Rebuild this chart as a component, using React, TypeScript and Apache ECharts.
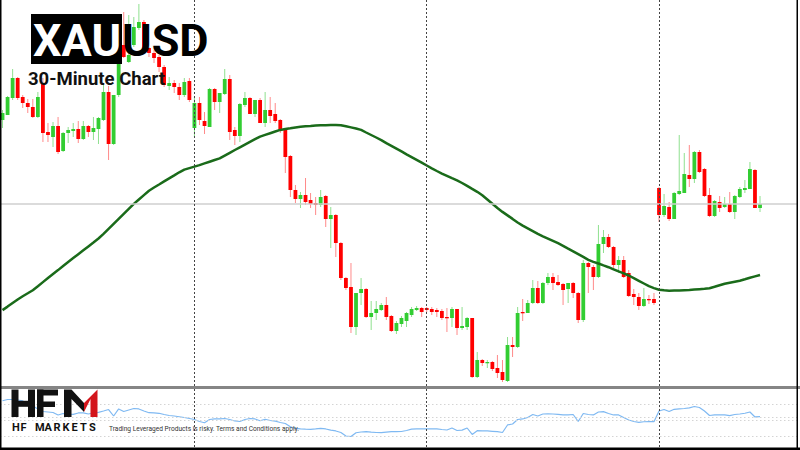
import React, { useEffect, useRef } from "react";
import * as echarts from "echarts";

// Candles as [open, close, low, high], one array per trading session
const session1: number[][] = [
  [280, 287, 272, 290], [285, 303, 285, 304], [302, 322, 300, 331], [322, 302, 300, 323],
  [303, 297, 292, 305], [297, 293, 287, 301], [293, 283, 282, 301], [283, 303, 282, 308],
  [316, 267, 258, 322], [268, 265, 258, 277], [263, 274, 253, 278], [274, 248, 246, 283],
  [249, 267, 248, 268], [267, 270, 257, 273], [269, 271, 263, 277], [271, 261, 257, 279],
  [261, 274, 260, 279], [274, 268, 263, 275], [268, 272, 260, 283], [271, 282, 256, 283],
  [280, 308, 279, 316], [308, 256, 240, 314], [256, 305, 255, 305], [305, 338, 303, 343],
  [355, 343, 342, 388], [338, 345, 337, 385], [355, 373, 353, 383], [372, 378, 370, 396],
  [378, 352, 350, 380], [352, 347, 343, 353], [347, 342, 337, 350], [343, 333, 328, 345],
  [333, 315, 313, 335], [314, 317, 310, 323], [317, 313, 307, 320], [313, 305, 300, 317],
  [305, 318, 303, 322], [319, 300, 298, 322],
];
const session2: number[][] = [
  [272, 297, 263, 303], [297, 280, 275, 303], [279, 274, 266, 288], [273, 311, 273, 312],
  [311, 298, 290, 312], [298, 307, 287, 307], [306, 321, 305, 331], [321, 268, 260, 325],
  [270, 264, 255, 273], [264, 296, 258, 297], [295, 302, 293, 308], [302, 286, 286, 303],
  [286, 300, 283, 300], [300, 277, 277, 302], [277, 290, 273, 308], [290, 284, 277, 303],
  [286, 279, 277, 297], [280, 269, 267, 281], [270, 243, 227, 272], [244, 210, 203, 245],
  [210, 201, 197, 215], [201, 205, 192, 208], [205, 198, 195, 222], [200, 196, 192, 207],
  [197, 195, 185, 203], [195, 203, 193, 210], [204, 181, 173, 205], [181, 185, 152, 193],
  [185, 157, 143, 186], [157, 122, 120, 158], [122, 112, 110, 123], [113, 73, 67, 137],
  [73, 107, 65, 107], [107, 111, 95, 122], [111, 83, 82, 112], [83, 87, 70, 99],
  [87, 91, 80, 99], [90, 95, 89, 97], [95, 83, 80, 103], [84, 69, 68, 85],
  [69, 77, 66, 79], [76, 82, 73, 84], [79, 87, 73, 88], [85, 91, 83, 93],
  [90, 92, 89, 94], [92, 88, 83, 93],
];
const session3: number[][] = [
  [92, 90, 88, 93], [91, 88, 85, 93], [90, 88, 83, 92], [89, 82, 80, 91],
  [83, 82, 68, 92], [82, 91, 73, 93], [91, 72, 65, 91], [72, 74, 70, 93],
  [73, 82, 70, 83], [82, 23, 22, 82], [23, 40, 22, 48], [40, 37, 34, 41],
  [37, 38, 32, 40], [38, 31, 29, 39], [32, 27, 22, 45], [28, 20, 18, 40],
  [19, 55, 18, 63], [55, 53, 43, 63], [53, 87, 52, 93], [88, 87, 79, 101],
  [87, 97, 87, 100], [97, 112, 96, 120], [112, 97, 96, 119], [97, 117, 96, 118],
  [117, 123, 115, 127], [123, 117, 110, 127], [118, 115, 114, 125], [116, 110, 95, 117],
  [111, 117, 97, 117], [117, 107, 102, 118], [107, 80, 77, 108], [80, 137, 78, 140],
  [137, 133, 107, 138], [133, 123, 110, 135], [123, 156, 122, 175], [156, 163, 147, 170],
  [163, 153, 152, 166], [153, 135, 132, 154], [135, 140, 127, 144], [140, 123, 122, 144],
  [127, 104, 103, 130], [106, 103, 95, 111], [103, 94, 90, 107], [94, 101, 93, 112],
  [101, 100, 96, 105], [101, 97, 95, 107],
];
const session4: number[][] = [
  [212, 185, 178, 213], [185, 194, 183, 206], [193, 181, 179, 198], [181, 207, 181, 208],
  [206, 209, 205, 265], [207, 226, 207, 247], [225, 221, 213, 255], [221, 248, 217, 249],
  [248, 228, 227, 250], [231, 204, 203, 232], [205, 184, 183, 212], [184, 199, 183, 200],
  [198, 192, 188, 204], [193, 196, 192, 203], [196, 188, 187, 208], [188, 204, 181, 205],
  [203, 211, 202, 213], [210, 212, 207, 220], [211, 231, 211, 238], [230, 192, 192, 231],
  [192, 196, 188, 204],
];

// Moving average (same price scale)
const movingAverage: number[] = [
  89.9, 93.4, 97.0, 100.5, 103.7, 106.7, 109.8, 113.8, 117.9, 122.0, 126.0, 129.9, 134.0, 138.0, 141.9, 145.8,
  149.7, 153.6, 157.5, 161.5, 166.2, 171.2, 176.2, 181.2, 186.2, 191.2, 196.1, 200.5, 204.9, 209.3, 212.5, 215.5,
  218.6, 221.6, 224.6, 227.7, 230.4, 231.9, 233.4, 234.9, 236.6, 238.3, 240.0, 241.6, 244.4, 247.2, 250.0, 252.7,
  255.4, 258.1, 260.8, 263.4, 265.1, 266.8, 268.5, 270.1, 270.9, 271.7, 272.6, 273.3, 273.7, 274.0, 274.4, 274.7,
  274.8, 274.9, 274.9, 274.8, 273.7, 272.6, 271.5, 270.1, 267.5, 265.0, 262.5, 259.9, 256.9, 254.2, 251.4, 248.6,
  245.7, 242.9, 240.1, 237.3, 234.5, 231.7, 229.0, 226.4, 224.1, 221.8, 219.6, 217.0, 214.1, 211.1, 208.2, 204.7,
  200.5, 196.3, 192.0, 188.1, 184.6, 181.1, 177.5, 174.4, 171.7, 168.9, 166.1, 163.6, 161.4, 159.1, 156.8, 154.2,
  151.4, 148.7, 145.9, 143.1, 140.2, 138.1, 136.5, 134.6, 132.8, 130.7, 128.6, 126.6, 124.5, 121.9, 119.2, 116.5,
  113.8, 111.9, 110.3, 109.7, 109.3, 109.5, 109.6, 109.8, 110.0, 110.4, 110.8, 111.2, 111.7, 113.2, 114.8, 116.3,
  117.3, 118.3, 119.3, 120.7, 122.2, 123.6, 125.0,
];

// Oscillator in the lower pane
const oscillator: number[] = [
  74.1, 75.6, 75.6, 75.0, 73.8, 71.3, 67.5, 63.8, 60.6, 60.0, 59.4, 56.3, 58.1, 57.5, 57.1, 58.8,
  58.8, 57.5, 58.8, 59.6, 61.3, 63.1, 55.0, 63.8, 60.6, 62.5, 64.4, 63.8, 61.3, 59.1, 58.8, 58.4,
  56.9, 55.6, 55.0, 54.1, 53.1, 51.9, 50.6, 48.1, 46.6, 50.6, 51.3, 51.3, 51.9, 50.6, 48.8, 48.1,
  50.6, 51.9, 51.3, 49.1, 50.9, 49.4, 48.5, 46.9, 45.6, 41.6, 39.6, 38.8, 38.5, 38.4, 38.8, 39.6,
  38.8, 37.3, 36.3, 34.4, 30.0, 29.4, 34.1, 35.0, 35.4, 34.8, 34.4, 34.1, 34.8, 35.4, 35.4, 35.6,
  36.9, 38.5, 38.8, 38.8, 38.8, 38.8, 38.8, 38.1, 37.5, 40.0, 36.9, 37.3, 40.0, 31.9, 36.6, 36.5,
  36.3, 35.9, 35.4, 34.4, 43.8, 45.0, 50.6, 51.3, 53.1, 56.9, 55.0, 57.5, 57.8, 57.5, 57.1, 56.5,
  56.3, 56.9, 48.1, 58.1, 56.9, 56.3, 60.0, 60.4, 58.1, 56.3, 56.3, 53.1, 50.0, 48.1, 47.1, 47.8,
  47.9, 47.9, 61.3, 63.1, 60.6, 63.4, 64.0, 64.4, 65.1, 66.9, 65.6, 61.3, 55.6, 56.3, 56.3, 56.3,
  55.4, 56.9, 57.5, 58.4, 60.0, 53.8, 54.1,
];
const oscillatorLevels: number[] = [70, 54, 50, 30];

// Session separator bars (candle index) and total slots on the time axis
const sessionStarts: number[] = [38, 84, 130];
const slotCount = 158;

const BODY_UP = "#32cd32";
const BODY_DOWN = "#ff0000";
const WICK_UP = "#8fe08f";
const WICK_DOWN = "#ff8a8a";

export default function App() {
  const ref = useRef<HTMLDivElement>(null);

  useEffect(() => {
    if (!ref.current) return;
    const chart = echarts.init(ref.current, null, { renderer: "svg" });

    const candles = [...session1, ...session2, ...session3, ...session4];
    const candleData = candles.map((d, i) => [i, d[0], d[1], d[2], d[3]]);
    const lastClose = candles[candles.length - 1][1];
    const slots = Array.from({ length: slotCount }, (_, i) => String(i));
    const sepLines = sessionStarts.map((s) => ({ xAxis: String(s) }));

    const pitch = 5.05;
    const plotWidth = slotCount * pitch;

    const hiddenX = (gridIndex: number) => ({
      type: "category" as const,
      gridIndex,
      data: slots,
      boundaryGap: true,
      show: false,
    });

    const option: any = {
      animation: false,
      backgroundColor: "#ffffff",
      grid: [
        { left: 0, top: 0, width: plotWidth, height: 386 },
        { left: 0, top: 389, width: plotWidth, height: 58 },
      ],
      xAxis: [hiddenX(0), hiddenX(1)],
      yAxis: [
        { type: "value", gridIndex: 0, min: 14, max: 400, show: false, splitLine: { show: false } },
        { type: "value", gridIndex: 1, min: 16.25, max: 88.75, show: false, splitLine: { show: false } },
      ],
      series: [
        {
          type: "line",
          xAxisIndex: 0,
          yAxisIndex: 0,
          data: [],
          z: 1,
          silent: true,
          markLine: {
            silent: true,
            symbol: "none",
            label: { show: false },
            animation: false,
            data: [
              { yAxis: lastClose, lineStyle: { color: "#cfcfcf", width: 1.5, type: "solid" } },
              ...sepLines.map((l) => ({ ...l, lineStyle: { color: "#444", width: 1, type: [2, 2] } })),
            ],
          },
        },
        {
          type: "custom",
          xAxisIndex: 0,
          yAxisIndex: 0,
          z: 3,
          data: candleData,
          encode: { x: 0, y: [1, 2, 3, 4] },
          renderItem: (params: any, api: any) => {
            const i = api.value(0);
            const o = api.value(1);
            const c = api.value(2);
            const l = api.value(3);
            const h = api.value(4);
            const [x, yo] = api.coord([i, o]);
            const yc = api.coord([i, c])[1];
            const yl = api.coord([i, l])[1];
            const yh = api.coord([i, h])[1];
            const up = c > o;
            const bw = 3.8;
            const top = Math.min(yo, yc);
            const hh = Math.max(Math.abs(yo - yc), 1.3);
            return {
              type: "group",
              children: [
                {
                  type: "line",
                  shape: { x1: x, y1: yh, x2: x, y2: yl },
                  style: { stroke: up ? WICK_UP : WICK_DOWN, lineWidth: 1 },
                },
                {
                  type: "rect",
                  shape: { x: x - bw / 2, y: top, width: bw, height: hh },
                  style: { fill: up ? BODY_UP : BODY_DOWN },
                },
              ],
            };
          },
        },
        {
          type: "line",
          xAxisIndex: 0,
          yAxisIndex: 0,
          z: 4,
          data: movingAverage,
          showSymbol: false,
          smooth: false,
          lineStyle: { color: "#1a6b1a", width: 2.5 },
          silent: true,
        },
        {
          type: "line",
          xAxisIndex: 1,
          yAxisIndex: 1,
          z: 3,
          data: oscillator,
          showSymbol: false,
          lineStyle: { color: "#7fb9f2", width: 1.2 },
          silent: true,
          markLine: {
            silent: true,
            symbol: "none",
            label: { show: false },
            data: [
              ...oscillatorLevels.map((v) => ({ yAxis: v, lineStyle: { color: "#d4d4d4", width: 1, type: [1.5, 2.5] } })),
              ...sepLines.map((l) => ({ ...l, lineStyle: { color: "#444", width: 1, type: [2, 2] } })),
            ],
          },
        },
      ],
      graphic: [
        // pane separator
        { type: "rect", shape: { x: 0, y: 386, width: 800, height: 3 }, style: { fill: "#858585" }, z: 10 },
        // frame
        { type: "rect", shape: { x: 0, y: 0, width: 1.5, height: 450 }, style: { fill: "#000" }, z: 10 },
        { type: "rect", shape: { x: 796.5, y: 0, width: 1.5, height: 450 }, style: { fill: "#000" }, z: 10 },
        { type: "rect", shape: { x: 0, y: 447.5, width: 800, height: 2.5 }, style: { fill: "#000" }, z: 10 },
        // title
        { type: "rect", shape: { x: 31, y: 14, width: 91, height: 50 }, style: { fill: "#000" }, z: 20 },
        {
          type: "text", x: 33, y: 40, z: 21,
          style: { text: "XAU", fill: "#fff", font: "bold 45px Roboto", textAlign: "left", textVerticalAlign: "middle" },
        },
        {
          type: "text", x: 122, y: 40, z: 21,
          style: { text: "USD", fill: "#000", font: "bold 45px Roboto", textAlign: "left", textVerticalAlign: "middle" },
        },
        {
          type: "text", x: 28, y: 79, z: 21,
          style: { text: "30-Minute Chart", fill: "#111", font: "bold 18.5px Roboto", textAlign: "left", textVerticalAlign: "middle" },
        },
        // HFM logo
        { type: "rect", shape: { x: 11.5, y: 389.5, width: 7, height: 27.5 }, style: { fill: "#111" }, z: 20 },
        { type: "rect", shape: { x: 28, y: 389.5, width: 7, height: 27.5 }, style: { fill: "#111" }, z: 20 },
        { type: "rect", shape: { x: 18, y: 400.8, width: 10, height: 6 }, style: { fill: "#111" }, z: 20 },
        { type: "rect", shape: { x: 37, y: 389.5, width: 6.5, height: 27.5 }, style: { fill: "#111" }, z: 20 },
        { type: "rect", shape: { x: 37, y: 389.5, width: 21, height: 6 }, style: { fill: "#111" }, z: 20 },
        { type: "rect", shape: { x: 37, y: 401.5, width: 18, height: 5.5 }, style: { fill: "#111" }, z: 20 },
        {
          type: "polygon", z: 20,
          shape: { points: [[64, 389.5], [71.5, 389.5], [84, 403], [84, 412], [71.5, 399], [71.5, 417], [64, 417]] },
          style: { fill: "#111" },
        },
        {
          type: "polygon", z: 20,
          shape: { points: [[84, 403], [97.5, 389.5], [97.5, 417], [90.5, 417], [90.5, 399], [84, 412]] },
          style: { fill: "#d3151c" },
        },
        ...[
          ["H", 12], ["F", 20.5], ["M", 35], ["A", 44.5], ["R", 53.5], ["K", 62.5], ["E", 71.5], ["T", 80], ["S", 89],
        ].map(([ch, x]) => ({
          type: "text", x, y: 427.5, z: 21,
          style: { text: ch, fill: "#111", font: "bold 11px Roboto", textAlign: "left", textVerticalAlign: "middle" },
        })),
        {
          type: "text", x: 109, y: 428.5, z: 21,
          style: {
            text: "Trading Leveraged Products is risky. Terms and Conditions apply.",
            fill: "#333", font: "6.6px Roboto", textAlign: "left", textVerticalAlign: "middle",
          },
        },
      ],
    };

    chart.setOption(option);
    return () => chart.dispose();
  }, []);

  return <div ref={ref} style={{ width: 800, height: 450, position: "absolute", left: 0, top: 0 }} />;
}
